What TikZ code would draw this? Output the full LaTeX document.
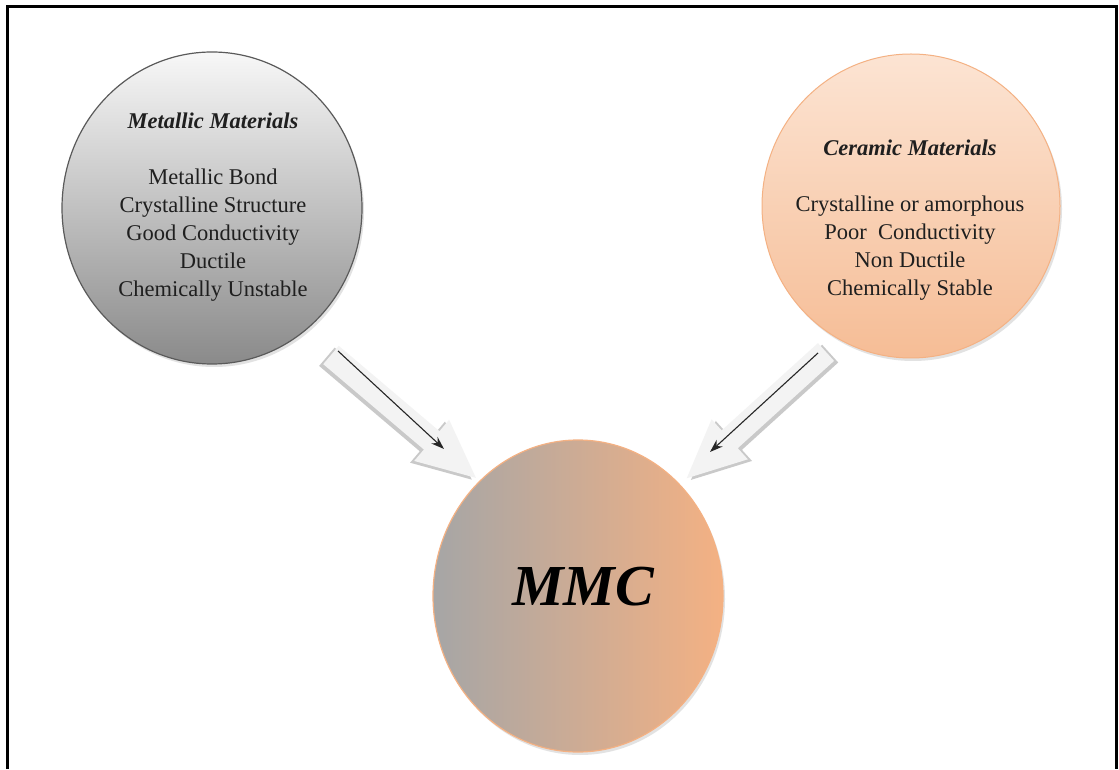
\documentclass[tikz,border=0pt]{standalone}
\usepackage{fontspec}
\setmainfont{Liberation Serif}
\usetikzlibrary{shapes.geometric,shadows,arrows.meta}
\definecolor{peach}{HTML}{F4B183}
\definecolor{peachlight}{HTML}{FCE4D3}
\definecolor{greydark}{HTML}{8A8A8A}
\definecolor{greyedge}{HTML}{5A5A5A}
\definecolor{arrowface}{HTML}{F3F3F3}
\definecolor{arrowshade}{HTML}{C9C9C9}
\tikzset{
  bubble/.style={ellipse, inner sep=0pt, drop shadow={shadow xshift=2pt, shadow yshift=-3pt, fill=gray!45}},
  body/.style={align=center, font=\fontsize{22.5}{28}\selectfont, text=black!88},
  blockarrow/.style={fill=arrowface, draw=none},
  blockshadow/.style={fill=arrowshade, draw=none},
  thinarrow/.style={-{Stealth[length=13pt,width=9pt]}, line width=1.1pt, black!85}
}
\newcommand{\blockarrowpath}[1]{(0,12) -- (#1-58,12) -- (#1-58,27) -- (#1,0) -- (#1-58,-27) -- (#1-58,-12) -- (0,-12) -- cycle}
\begin{document}
\begin{tikzpicture}[x=1pt,y=1pt]
\useasboundingbox (0,0) rectangle (1119,769);
\fill[white] (0,0) rectangle (1119,769);
\draw[line width=3pt] (7,0) -- (7,762) -- (1116,762) -- (1116,0);

% circles
\node[bubble, minimum width=300, minimum height=312, draw=greyedge, line width=1.2pt,
      top color=white!97!black, bottom color=greydark] (metal) at (212,561) {};
\node[bubble, minimum width=298, minimum height=304, draw=peach, line width=1pt,
      top color=peachlight, bottom color=peach!85!white] (ceramic) at (911,563) {};
\node[bubble, minimum width=290, minimum height=312, draw=peach, line width=1.2pt,
      left color=black!35, right color=peach] (mmc) at (578,173) {};

% texts
\node[body] (metaltext) at (213,562) {\textbf{\textit{Metallic Materials}}\\[28pt]
  Metallic Bond\\ Crystalline Structure\\ Good Conductivity\\ Ductile\\ Chemically Unstable};
\node[body] (cerytext) at (910,549) {\textbf{\textit{Ceramic Materials}}\\[28pt]
  Crystalline or amorphous\\ Poor~~Conductivity\\ Non Ductile\\ Chemically Stable};
\node[font=\fontsize{58}{60}\selectfont\bfseries\itshape] (mmctext) at (583,182) {MMC};

% arrow anchor points
\coordinate (la) at (331,414);
\coordinate (lb) at (476,291);
\coordinate (ra) at (826,417);
\coordinate (rb) at (687,291);
\coordinate (lia) at (338,418);
\coordinate (lib) at (444,320);
\coordinate (ria) at (818,416);
\coordinate (rib) at (710,317);

% left block arrow
\begin{scope}[shift={(la)}, rotate=-40.3]
  \fill[blockshadow] [shift={(-2,-4)}] \blockarrowpath{190};
  \fill[blockarrow] \blockarrowpath{190};
\end{scope}
% right block arrow
\begin{scope}[shift={(ra)}, rotate=-137.8]
  \fill[blockshadow] [shift={(-2,4)}] \blockarrowpath{188};
  \fill[blockarrow] \blockarrowpath{188};
\end{scope}
\draw[thinarrow] (lia) -- (lib);
\draw[thinarrow] (ria) -- (rib);
\end{tikzpicture}
\end{document}
